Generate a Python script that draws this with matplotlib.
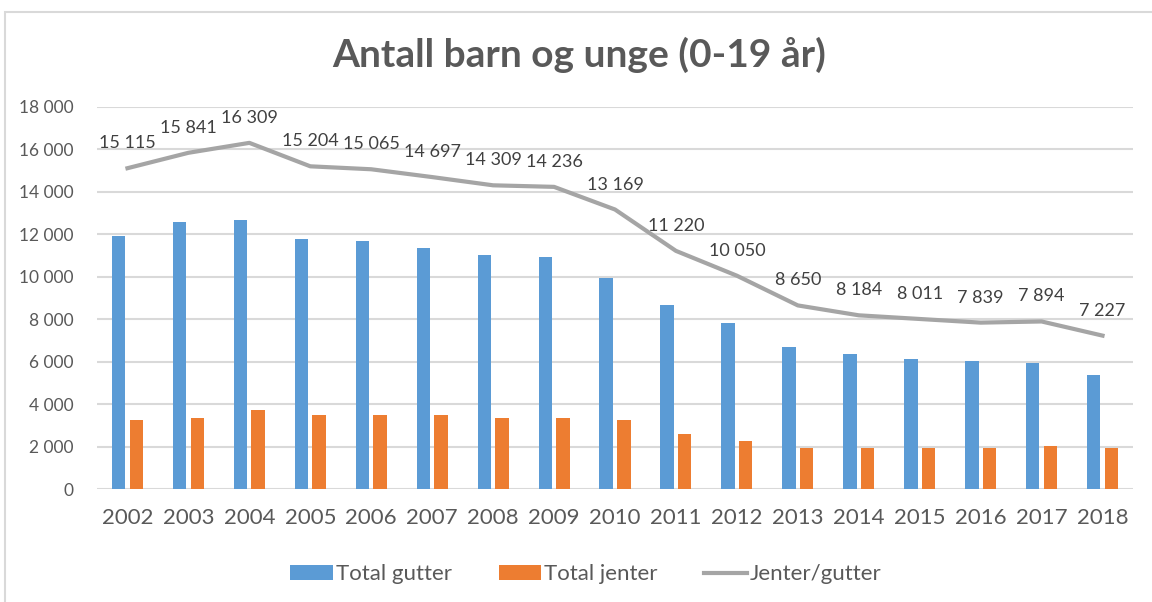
import numpy as np
import matplotlib
matplotlib.use("Agg")
import matplotlib.pyplot as plt
from matplotlib.patches import Rectangle
from matplotlib.ticker import FuncFormatter

years = ["2002", "2003", "2004", "2005", "2006", "2007", "2008", "2009", "2010",
         "2011", "2012", "2013", "2014", "2015", "2016", "2017", "2018"]
total_gutter = [11900, 12580, 12690, 11800, 11700, 11350, 11040, 10910, 9920,
                8680, 7800, 6690, 6360, 6140, 6015, 5920, 5370]
total_jenter = [3250, 3365, 3700, 3475, 3475, 3475, 3365, 3365, 3250,
                2590, 2250, 1920, 1920, 1920, 1920, 2030, 1920]
jenter_gutter = [15115, 15841, 16309, 15204, 15065, 14697, 14309, 14236, 13169,
                 11220, 10050, 8650, 8184, 8011, 7839, 7894, 7227]

plt.rcParams['font.family'] = ['Lato', 'DejaVu Sans']
text_color = '#595959'


def fmt(v):
    return f"{int(v):,}".replace(",", " ")


fig = plt.figure(figsize=(11.52, 6.02), dpi=100)
ax = fig.add_axes([0.0842, 0.1877, 0.8993, 0.6346])

# chart frame (cropped on right/bottom in the original)
fig.patches.append(Rectangle((5 / 1152, -0.05), 1.2, 1 - 12 / 602 + 0.05,
                             transform=fig.transFigure, fill=False,
                             edgecolor='#d9d9d9', linewidth=1.5))

x = np.arange(len(years))
w = 0.22
b1 = ax.bar(x - 0.145, total_gutter, width=w, color='#5b9bd5', label="Total gutter", zorder=2)
b2 = ax.bar(x + 0.145, total_jenter, width=w, color='#ed7d31', label="Total jenter", zorder=2)
l1, = ax.plot(x, jenter_gutter, color='#a5a5a5', linewidth=3, label="Jenter/gutter", zorder=3)

for xi, v in zip(x, jenter_gutter):
    ax.annotate(fmt(v), (xi, v), xytext=(0, 18), textcoords='offset points',
                ha='center', va='center', fontsize=13, color='#404040')

ax.set_xlim(-0.5, len(years) - 0.5)
ax.set_ylim(0, 18000)
ax.set_yticks(np.arange(0, 18001, 2000))
ax.yaxis.set_major_formatter(FuncFormatter(lambda v, p: fmt(v)))
ax.set_xticks(x)
ax.set_xticklabels(years)
ax.grid(axis='y', color='#d9d9d9', linewidth=1.5, zorder=0)
ax.set_axisbelow(True)
for s in ax.spines.values():
    s.set_visible(False)
ax.tick_params(axis='both', length=0, colors=text_color)
ax.tick_params(axis='y', labelsize=12.5, pad=17)
ax.tick_params(axis='x', labelsize=16, pad=14)

fig.text(0.503, 0.908, "Antall barn og unge (0-19 år)", ha='center', va='center',
         fontsize=28, fontweight='bold', color=text_color)

leg = fig.legend([b1, b2, l1], ["Total gutter", "Total jenter", "Jenter/gutter"],
                 loc='center', bbox_to_anchor=(586 / 1152, 0.046), ncol=3, frameon=False,
                 fontsize=16, handlelength=1.9, handleheight=0.6, handletextpad=0.15,
                 columnspacing=2.1)
for t in leg.get_texts():
    t.set_color(text_color)

fig.savefig("out.png", dpi=100)
